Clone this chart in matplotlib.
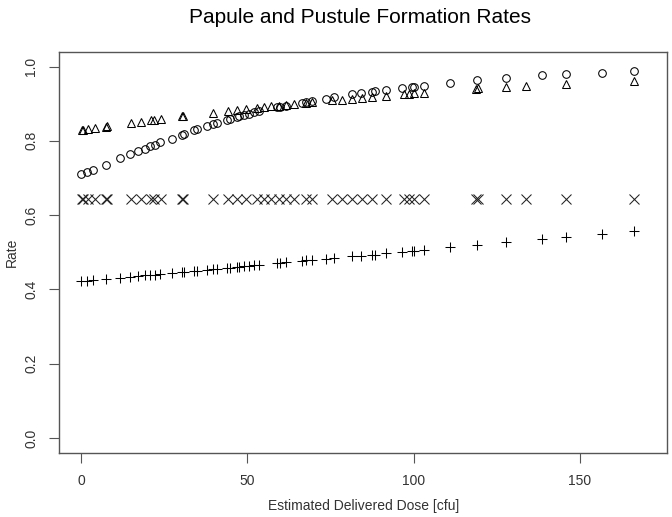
import matplotlib
matplotlib.use("Agg")
import matplotlib.pyplot as plt

plt.rcParams['font.family'] = ['Liberation Sans', 'DejaVu Sans']

# dose values shared by the papule series (circles and pluses)
dose_a = [0, 1.8, 3.6, 7.5, 11.7, 14.7, 17.1, 19.2, 20.7, 22.2, 23.7, 27.2, 30.2, 30.8,
          33.8, 34.7, 37.7, 39.5, 40.7, 43.7, 44.6, 46.7, 47.6, 49.1, 50.6, 52.1, 53.6,
          59.0, 59.9, 61.7, 66.5, 67.7, 69.5, 73.7, 76.0, 81.4, 84.1, 87.4, 88.3, 91.6,
          96.4, 99.4, 100.0, 103.3, 111.1, 119.2, 127.8, 138.6, 145.8, 156.6, 166.5]
circle_rate = [0.711, 0.716, 0.722, 0.735, 0.753, 0.765, 0.772, 0.778, 0.785, 0.790, 0.797,
               0.806, 0.816, 0.818, 0.828, 0.831, 0.840, 0.845, 0.848, 0.856, 0.858, 0.863,
               0.866, 0.870, 0.873, 0.877, 0.880, 0.890, 0.892, 0.895, 0.903, 0.905, 0.908,
               0.914, 0.917, 0.925, 0.928, 0.932, 0.933, 0.937, 0.942, 0.945, 0.946, 0.949,
               0.957, 0.964, 0.970, 0.976, 0.979, 0.984, 0.988]
plus_rate = [0.422, 0.424, 0.425, 0.428, 0.432, 0.434, 0.436, 0.438, 0.439, 0.440, 0.441,
             0.444, 0.447, 0.447, 0.450, 0.450, 0.453, 0.454, 0.455, 0.458, 0.459, 0.460,
             0.461, 0.462, 0.463, 0.465, 0.466, 0.470, 0.471, 0.473, 0.477, 0.478, 0.479,
             0.482, 0.484, 0.489, 0.491, 0.494, 0.494, 0.497, 0.501, 0.504, 0.504, 0.507,
             0.513, 0.520, 0.527, 0.536, 0.542, 0.550, 0.558]

# dose values shared by the pustule series (triangles and crosses)
dose_b = [0.3, 0.6, 2.1, 4.2, 7.5, 7.8, 15.0, 18.0, 21.0, 21.9, 24.0, 30.2, 30.5, 39.5,
          44.0, 46.7, 49.7, 53.0, 55.1, 57.2, 59.6, 61.7, 64.1, 67.7, 69.5, 75.4, 78.4,
          81.4, 84.4, 87.4, 91.6, 97.0, 98.5, 100.0, 103.0, 118.9, 119.5, 127.8, 133.8,
          145.8, 166.5]
triangle_rate = [0.829, 0.830, 0.831, 0.834, 0.838, 0.839, 0.848, 0.852, 0.856, 0.857,
                 0.860, 0.866, 0.867, 0.876, 0.881, 0.883, 0.886, 0.889, 0.891, 0.893,
                 0.895, 0.897, 0.899, 0.902, 0.904, 0.909, 0.911, 0.914, 0.916, 0.919,
                 0.922, 0.926, 0.927, 0.928, 0.930, 0.940, 0.941, 0.945, 0.948, 0.953,
                 0.960]
cross_rate = [0.643] * len(dose_b)

fig = plt.figure(figsize=(6.72, 5.17), dpi=100)
ax = fig.add_axes([0.088, 0.124, 0.905, 0.776])

lw = 0.75
ax.plot(dose_a, circle_rate, 'o', mfc='none', mec='black', ms=5.5, mew=lw)
ax.plot(dose_b, triangle_rate, '^', mfc='none', mec='black', ms=6, mew=lw)
ax.plot(dose_b, cross_rate, 'x', color='#222222', ms=6.5, mew=lw)
ax.plot(dose_a, plus_rate, '+', color='black', ms=7.5, mew=lw)

ax.set_xlim(-6.7, 176.4)
ax.set_ylim(-0.04, 1.04)
ax.set_xticks([0, 50, 100, 150])
ax.set_yticks([0.0, 0.2, 0.4, 0.6, 0.8, 1.0])
ax.set_yticklabels(['0.0', '0.2', '0.4', '0.6', '0.8', '1.0'], rotation=90, va='center')

txt = '#333333'
for s in ax.spines.values():
    s.set_color('#555555')
    s.set_linewidth(1.0)
ax.tick_params(direction='out', length=7, width=0.8, color='#555555',
               labelcolor=txt, labelsize=10, pad=8)

ax.set_xlabel('Estimated Delivered Dose [cfu]', color=txt, fontsize=10, labelpad=8)
ax.set_ylabel('Rate', color=txt, fontsize=10, labelpad=4)
fig.suptitle('Papule and Pustule Formation Rates', color='black', fontsize=15, y=0.985,
             x=0.535)

fig.savefig('out.png', dpi=100)
